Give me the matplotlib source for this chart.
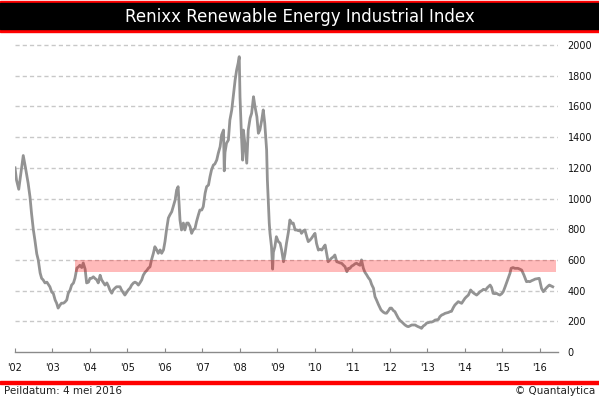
import matplotlib
matplotlib.use("Agg")
import matplotlib.pyplot as plt
from matplotlib.patches import Rectangle

# data (decimale jaren, indexwaarde)
jaar = [2002.00, 2002.04, 2002.10, 2002.15, 2002.22, 2002.28, 2002.35, 2002.40, 2002.44, 2002.49,
        2002.53, 2002.58, 2002.62, 2002.67, 2002.71, 2002.75, 2002.80, 2002.85, 2002.89, 2002.93,
        2002.98, 2003.02, 2003.07, 2003.11, 2003.15, 2003.20, 2003.24, 2003.29, 2003.33, 2003.38,
        2003.42, 2003.47, 2003.51, 2003.56, 2003.60, 2003.65, 2003.69, 2003.73, 2003.78, 2003.82,
        2003.87, 2003.91, 2003.96, 2004.00, 2004.04, 2004.09, 2004.13, 2004.18, 2004.22, 2004.27,
        2004.31, 2004.35, 2004.40, 2004.45, 2004.49, 2004.53, 2004.58, 2004.62, 2004.67, 2004.71,
        2004.75, 2004.80, 2004.84, 2004.89, 2004.93, 2004.98, 2005.02, 2005.07, 2005.11, 2005.16,
        2005.20, 2005.24, 2005.29, 2005.33, 2005.38, 2005.42, 2005.47, 2005.51, 2005.56, 2005.60,
        2005.64, 2005.69, 2005.73, 2005.78, 2005.82, 2005.87, 2005.91, 2005.96, 2006.00, 2006.04,
        2006.09, 2006.13, 2006.18, 2006.22, 2006.27, 2006.31, 2006.35, 2006.40, 2006.44, 2006.49,
        2006.53, 2006.58, 2006.62, 2006.67, 2006.71, 2006.75, 2006.80, 2006.84, 2006.89, 2006.93,
        2006.98, 2007.02, 2007.07, 2007.11, 2007.16, 2007.20, 2007.24, 2007.29, 2007.33, 2007.38,
        2007.42, 2007.47, 2007.51, 2007.56, 2007.58, 2007.60, 2007.64, 2007.69, 2007.73, 2007.78,
        2007.82, 2007.87, 2007.91, 2007.95, 2007.98, 2008.00, 2008.04, 2008.07, 2008.09, 2008.13,
        2008.18, 2008.22, 2008.27, 2008.31, 2008.36, 2008.40, 2008.45, 2008.49, 2008.53, 2008.58,
        2008.62, 2008.66, 2008.71, 2008.73, 2008.76, 2008.78, 2008.80, 2008.84, 2008.87, 2008.89,
        2008.93, 2008.97, 2009.02, 2009.07, 2009.11, 2009.16, 2009.20, 2009.24, 2009.29, 2009.33,
        2009.38, 2009.42, 2009.47, 2009.51, 2009.56, 2009.60, 2009.64, 2009.69, 2009.73, 2009.78,
        2009.82, 2009.87, 2009.91, 2009.96, 2010.00, 2010.04, 2010.09, 2010.13, 2010.18, 2010.22,
        2010.27, 2010.31, 2010.35, 2010.40, 2010.44, 2010.49, 2010.53, 2010.58, 2010.62, 2010.67,
        2010.71, 2010.76, 2010.80, 2010.85, 2010.89, 2010.93, 2010.98, 2011.02, 2011.07, 2011.11,
        2011.16, 2011.20, 2011.24, 2011.29, 2011.33, 2011.38, 2011.42, 2011.47, 2011.51, 2011.56,
        2011.60, 2011.64, 2011.69, 2011.72, 2011.76, 2011.82, 2011.87, 2011.91, 2011.96, 2012.00,
        2012.04, 2012.09, 2012.13, 2012.18, 2012.22, 2012.27, 2012.31, 2012.36, 2012.40, 2012.45,
        2012.49, 2012.53, 2012.58, 2012.62, 2012.67, 2012.71, 2012.75, 2012.80, 2012.84, 2012.89,
        2012.93, 2012.98, 2013.02, 2013.07, 2013.11, 2013.16, 2013.20, 2013.25, 2013.29, 2013.33,
        2013.38, 2013.42, 2013.47, 2013.51, 2013.56, 2013.60, 2013.64, 2013.69, 2013.73, 2013.78,
        2013.82, 2013.87, 2013.91, 2013.96, 2014.00, 2014.04, 2014.09, 2014.15, 2014.20, 2014.24,
        2014.31, 2014.36, 2014.40, 2014.45, 2014.49, 2014.55, 2014.60, 2014.67, 2014.71, 2014.75,
        2014.80, 2014.84, 2014.89, 2014.93, 2014.98, 2015.02, 2015.07, 2015.15, 2015.20, 2015.23,
        2015.28, 2015.33, 2015.41, 2015.46, 2015.51, 2015.57, 2015.64, 2015.69, 2015.73, 2015.78,
        2015.82, 2015.87, 2015.93, 2015.98, 2016.04, 2016.09, 2016.16, 2016.22, 2016.25, 2016.30,
        2016.34]

koers = [1200, 1120, 1060, 1150, 1280, 1200, 1100, 1010, 905, 795,
         730, 640, 600, 515, 480, 470, 450, 455, 440, 425,
         390, 383, 339, 318, 286, 306, 318, 318, 325, 339,
         383, 404, 436, 450, 482, 547, 554, 565, 550, 580,
         540, 450, 455, 480, 480, 490, 480, 470, 450, 500,
         470, 455, 436, 450, 430, 404, 383, 404, 417, 425,
         425, 425, 404, 385, 371, 390, 404, 417, 436, 450,
         455, 450, 436, 450, 470, 500, 520, 530, 547, 555,
         600, 643, 686, 665, 643, 665, 643, 665, 720, 795,
         873, 893, 914, 947, 990, 1055, 1077, 860, 795, 840,
         795, 840, 840, 816, 773, 795, 805, 849, 893, 925,
         925, 947, 1035, 1077, 1088, 1142, 1186, 1218, 1225, 1251,
         1294, 1338, 1414, 1446, 1180, 1300, 1360, 1381, 1511, 1577,
         1663, 1772, 1837, 1881, 1924, 1663, 1403, 1250, 1446, 1360,
         1230, 1446, 1524, 1555, 1663, 1598, 1533, 1425, 1446, 1511,
         1577, 1490, 1316, 1120, 947, 840, 773, 686, 540, 650,
         686, 751, 720, 709, 664, 588, 640, 709, 780, 860,
         838, 840, 795, 795, 790, 795, 773, 790, 795, 751,
         719, 730, 742, 760, 773, 708, 664, 670, 664, 680,
         697, 643, 588, 600, 611, 620, 632, 588, 585, 580,
         578, 565, 556, 523, 545, 545, 560, 565, 575, 578,
         570, 565, 600, 545, 520, 502, 485, 469, 440, 415,
         360, 339, 310, 295, 274, 260, 253, 253, 270, 286,
         286, 270, 263, 240, 221, 205, 197, 185, 176, 168,
         165, 170, 176, 176, 176, 170, 165, 160, 154, 170,
         176, 189, 191, 195, 195, 200, 208, 210, 212, 230,
         241, 245, 252, 255, 258, 263, 265, 290, 306, 318,
         328, 322, 317, 335, 350, 360, 371, 404, 390, 382,
         371, 382, 393, 400, 408, 405, 420, 436, 420, 382,
         380, 382, 375, 371, 380, 393, 425, 480, 513, 545,
         550, 545, 545, 540, 534, 502, 458, 460, 458, 465,
         469, 475, 478, 480, 415, 393, 415, 430, 436, 430,
         425]

jaar_ticks = list(range(2002, 2017))
jaar_labels = ["'%02d" % (j - 2000) for j in jaar_ticks]
y_ticks = list(range(0, 2001, 200))

# weerstandszone
zone_start, zone_eind = 2003.6, 2016.43
zone_laag, zone_hoog = 520, 600

fig = plt.figure(figsize=(5.99, 3.99), dpi=100)
W, H = 599, 399

# titelbalk
fig.patches.append(Rectangle((0, 1 - 31.5 / H), 1, 30.5 / H, transform=fig.transFigure,
                             color='red', zorder=0))
fig.patches.append(Rectangle((0, 1 - 29 / H), 1, 26 / H, transform=fig.transFigure,
                             color='black', zorder=1))
fig.text(0.5, 1 - 16.5 / H, 'Renixx Renewable Energy Industrial Index', color='white',
         ha='center', va='center', fontsize=12)

# onderste rode lijn en voettekst
fig.patches.append(Rectangle((0, 1 - 383.5 / H), 1, 2.5 / H, transform=fig.transFigure,
                             color='red'))
fig.text(4 / W, 1 - 391 / H, 'Peildatum: 4 mei 2016', ha='left', va='center',
         fontsize=7.5, color='#222222')
fig.text(595 / W, 1 - 391 / H, '\u00a9 Quantalytica', ha='right', va='center',
         fontsize=7.5, color='#222222')

# grafiek
ymax = 2050
px_per = 307 / 2000
hoogte = ymax * px_per
ax = fig.add_axes([15 / W, 47 / H, (558 - 15) / W, hoogte / H])
ax.set_xlim(2002, 2016.48)
ax.set_ylim(0, ymax)

ax.plot(jaar, koers, color='#939393', lw=2, zorder=2)
ax.add_patch(Rectangle((zone_start, zone_laag), zone_eind - zone_start, zone_hoog - zone_laag,
                       color='red', alpha=0.27, lw=0, zorder=3))

for y in y_ticks[1:]:
    ax.axhline(y, color='#c8c8c8', lw=1, linestyle=(0, (3, 2.2)), zorder=1)

for s in ['top', 'left', 'right']:
    ax.spines[s].set_visible(False)
ax.spines['bottom'].set_color('#8a8a8a')
ax.spines['bottom'].set_linewidth(1)

ax.yaxis.tick_right()
ax.set_yticks(y_ticks)
ax.set_yticklabels([str(y) for y in y_ticks])
ax.tick_params(axis='y', length=0, pad=7, labelsize=7, labelcolor='#111111')

ax.set_xticks(jaar_ticks)
ax.set_xticklabels(jaar_labels)
ax.tick_params(axis='x', direction='in', length=3, color='#8a8a8a', pad=8,
               labelsize=7, labelcolor='#111111')

fig.savefig('out.png', dpi=100)
